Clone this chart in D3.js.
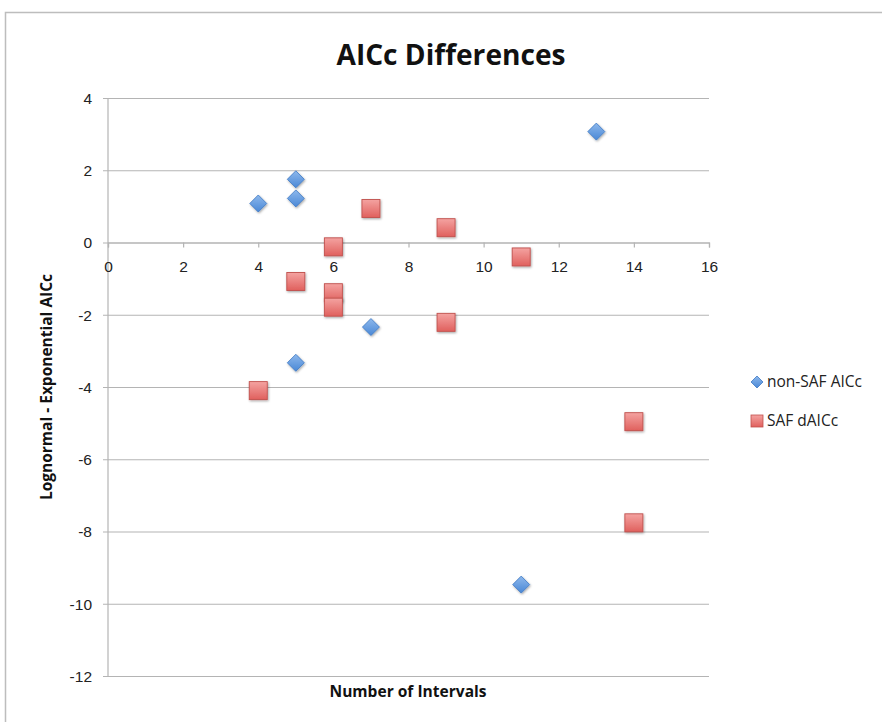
<!DOCTYPE html>
<html>
<head>
<meta charset="utf-8">
<script src="https://cdn.jsdelivr.net/npm/d3@7"></script>
<style>
  html, body { margin: 0; padding: 0; background: #fff; }
  svg { display: block; font-family: "Open Sans", "Noto Sans", sans-serif; }
</style>
</head>
<body>
<svg id="chart" width="882" height="722"></svg>
<script>
// Series: number of intervals vs. lognormal minus exponential AICc
const nonSafX = [4, 5, 5, 13, 7, 5, 11];
const nonSafY = [1.08, 1.75, 1.22, 3.07, -2.34, -3.33, -9.47];
const safX = [7, 6, 9, 11, 5, 6, 6, 9, 4, 14, 14];
const safY = [0.94, -0.12, 0.41, -0.40, -1.08, -1.39, -1.79, -2.21, -4.10, -4.96, -7.76];
const xTicks = [0, 2, 4, 6, 8, 10, 12, 14, 16];
const yTicks = [4, 2, 0, -2, -4, -6, -8, -10, -12];
const seriesNames = ["non-SAF AICc", "SAF dAICc"];

const svg = d3.select("#chart");

// chart frame
svg.append("path")
  .attr("d", "M5.5,722 L5.5,12.5 L882,12.5")
  .attr("fill", "none").attr("stroke", "#bdbdbd").attr("stroke-width", 1.5);

const x = d3.scaleLinear().domain([0, 16]).range([108, 709]);
const y = d3.scaleLinear().domain([-12, 4]).range([676, 98]);

const defs = svg.append("defs");
const gb = defs.append("linearGradient").attr("id", "gBlue").attr("x1", 0).attr("y1", 0).attr("x2", 0).attr("y2", 1);
gb.append("stop").attr("offset", "0%").attr("stop-color", "#8db8ec");
gb.append("stop").attr("offset", "100%").attr("stop-color", "#4a88d6");
const gr = defs.append("linearGradient").attr("id", "gRed").attr("x1", 0).attr("y1", 0).attr("x2", 0).attr("y2", 1);
gr.append("stop").attr("offset", "0%").attr("stop-color", "#f4a3a1");
gr.append("stop").attr("offset", "100%").attr("stop-color", "#e0605d");
const sh = defs.append("filter").attr("id", "shadow").attr("x", "-50%").attr("y", "-50%").attr("width", "200%").attr("height", "200%");
sh.append("feDropShadow").attr("dx", 0.8).attr("dy", 1.2).attr("stdDeviation", 1.1).attr("flood-color", "#000").attr("flood-opacity", 0.35);

const plain = d => String(d);

// horizontal gridlines with left tick stubs
const yAxis = d3.axisLeft(y).tickValues(yTicks).tickSize(-(709 - 103)).tickPadding(12).tickFormat(plain);
const gy = svg.append("g").attr("transform", "translate(103,0)").call(yAxis);
gy.select(".domain").remove();
gy.selectAll(".tick line").attr("stroke", "#b4b4b4").attr("stroke-width", 1.2);
gy.selectAll(".tick text").attr("font-size", 15.5).attr("fill", "#222").attr("x", -11).attr("dy", "0.34em");

// vertical axis line
svg.append("line").attr("x1", 108).attr("x2", 108).attr("y1", y(4)).attr("y2", y(-12))
  .attr("stroke", "#b4b4b4").attr("stroke-width", 1.2);

// horizontal axis crossing at zero
const xAxis = d3.axisBottom(x).tickValues(xTicks).tickSize(5).tickPadding(13).tickFormat(plain);
const gx = svg.append("g").attr("transform", `translate(0,${y(0)})`).call(xAxis);
gx.select(".domain").attr("stroke", "#b4b4b4").attr("stroke-width", 1.2);
gx.selectAll(".tick line").attr("stroke", "#b4b4b4").attr("stroke-width", 1.2);
gx.selectAll(".tick text").attr("font-size", 15.5).attr("fill", "#222");

// markers
const diamond = (cx, cy, r) => `M${cx},${cy - r}L${cx + r},${cy}L${cx},${cy + r}L${cx - r},${cy}Z`;

svg.append("g").selectAll("path").data(nonSafX.map((d, i) => [d, nonSafY[i]])).join("path")
  .attr("d", d => diamond(x(d[0]), y(d[1]), 8.5))
  .attr("fill", "url(#gBlue)").attr("stroke", "#3d78c4").attr("stroke-width", 0.8)
  .attr("filter", "url(#shadow)");

svg.append("g").selectAll("rect").data(safX.map((d, i) => [d, safY[i]])).join("rect")
  .attr("x", d => x(d[0]) - 9).attr("y", d => y(d[1]) - 9)
  .attr("width", 18).attr("height", 18)
  .attr("fill", "url(#gRed)").attr("stroke", "#c0504d").attr("stroke-width", 0.9)
  .attr("filter", "url(#shadow)");

// title
svg.append("text").attr("x", 451).attr("y", 65).attr("text-anchor", "middle")
  .attr("font-size", 28).attr("font-weight", "bold").attr("fill", "#111")
  .attr("textLength", 229).attr("lengthAdjust", "spacingAndGlyphs").text("AICc Differences");

// axis titles
svg.append("text").attr("x", 408).attr("y", 697).attr("text-anchor", "middle")
  .attr("font-size", 15.5).attr("font-weight", "bold").attr("fill", "#111")
  .attr("textLength", 157).attr("lengthAdjust", "spacingAndGlyphs").text("Number of Intervals");
svg.append("text").attr("transform", `translate(52,${(y(4) + y(-12)) / 2}) rotate(-90)`)
  .attr("text-anchor", "middle").attr("font-size", 15.5).attr("font-weight", "bold").attr("fill", "#111")
  .text("Lognormal - Exponential AICc");

// legend
const lg = svg.append("g");
lg.append("path").attr("d", diamond(757, 382, 6)).attr("fill", "url(#gBlue)").attr("stroke", "#3d78c4").attr("stroke-width", 0.8);
lg.append("rect").attr("x", 751).attr("y", 415).attr("width", 12).attr("height", 12)
  .attr("fill", "url(#gRed)").attr("stroke", "#c0504d").attr("stroke-width", 0.8);
lg.append("text").attr("x", 767).attr("y", 382).attr("dy", "0.35em").attr("font-size", 15.5).attr("fill", "#222").text(seriesNames[0]);
lg.append("text").attr("x", 767).attr("y", 421).attr("dy", "0.35em").attr("font-size", 15.5).attr("fill", "#222").text(seriesNames[1]);
</script>
</body>
</html>
